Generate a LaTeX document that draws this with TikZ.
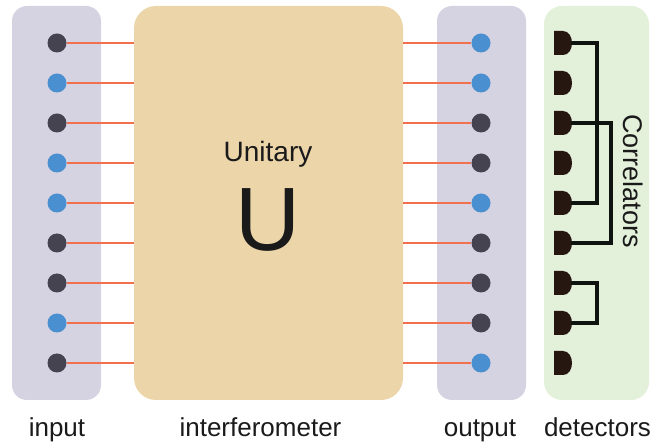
\documentclass[tikz,border=0pt]{standalone}
\usepackage{fontspec}
\setmainfont{Liberation Sans}
\definecolor{panelgray}{HTML}{D5D2E2}
\definecolor{panelsand}{HTML}{ECD5A9}
\definecolor{panelgreen}{HTML}{E3F0DA}
\definecolor{photondark}{HTML}{45434F}
\definecolor{photonblue}{HTML}{4A8FCF}
\definecolor{beamred}{HTML}{F07050}
\definecolor{detbrown}{HTML}{261810}
\definecolor{wire}{HTML}{101410}
\definecolor{ink}{HTML}{1A1A1A}
\begin{document}
\begin{tikzpicture}[x=1pt,y=-1pt,
  panel/.style={draw=none,rectangle,minimum height=394pt,inner sep=0pt},
  dot/.style={circle,draw=none,minimum size=19pt,inner sep=0pt},
  beam/.style={draw=beamred,line width=2.8pt},
  wireline/.style={draw=wire,line width=3.2pt},
  label/.style={text=ink,font=\fontsize{26}{30}\selectfont,anchor=base}]
\useasboundingbox (0,0) rectangle (654,446);

% panels
\node[panel,fill=panelgray,rounded corners=15pt,minimum width=89pt] (inp) at (56.5,203) {};
\node[panel,fill=panelsand,rounded corners=22pt,minimum width=269pt] (U) at (268.5,203) {};
\node[panel,fill=panelgray,rounded corners=15pt,minimum width=89pt] (outp) at (481.5,203) {};
\node[panel,fill=panelgreen,rounded corners=18pt,minimum width=105pt] (det) at (596.5,203) {};

% input and output modes, beams and detectors
\foreach \i/\cin/\cout in {1/photondark/photonblue,2/photonblue/photonblue,3/photondark/photondark,
  4/photonblue/photondark,5/photonblue/photonblue,6/photondark/photondark,
  7/photondark/photondark,8/photonblue/photondark,9/photondark/photonblue}{
  \pgfmathsetmacro{\yy}{43+40*(\i-1)}
  \coordinate (ul\i) at (134,\yy);
  \coordinate (ur\i) at (403,\yy);
  \node[dot,fill=\cin] (in\i) at (57,\yy) {};
  \node[dot,fill=\cout] (out\i) at (481,\yy) {};
  \draw[beam] (in\i) -- (ul\i);
  \draw[beam] (ur\i) -- (out\i);
  % detector
  \fill[detbrown] (554,\yy-12) -- (563,\yy-12)
     .. controls (575,\yy-12) and (575,\yy+12) .. (563,\yy+12)
     -- (554,\yy+12) -- cycle;
  \coordinate (d\i) at (571,\yy);
}

% correlator wiring
\draw[wireline] (d1) -- ++(26,0) |- (d5);
\draw[wireline] (d3) -- ++(40,0) |- (d6);
\draw[wireline] (d7) -- ++(26,0) |- (d8);

% texts
\node[text=ink,font=\fontsize{27}{30}\selectfont,rotate=-90] (corr) at (633,181) {Correlators};
\node[text=ink,font=\fontsize{28}{32}\selectfont,anchor=base] (ulab) at (268,162) {Unitary};
\node[text=ink,font=\fontsize{90}{96}\selectfont,anchor=base] (Ubig) at (268,251) {U};

\node[label] (l1) at (57,437) {input};
\node[label] (l2) at (260.5,437) {interferometer};
\node[label] (l3) at (480,437) {output};
\node[label] (l4) at (597.5,437) {detectors};
\end{tikzpicture}
\end{document}
